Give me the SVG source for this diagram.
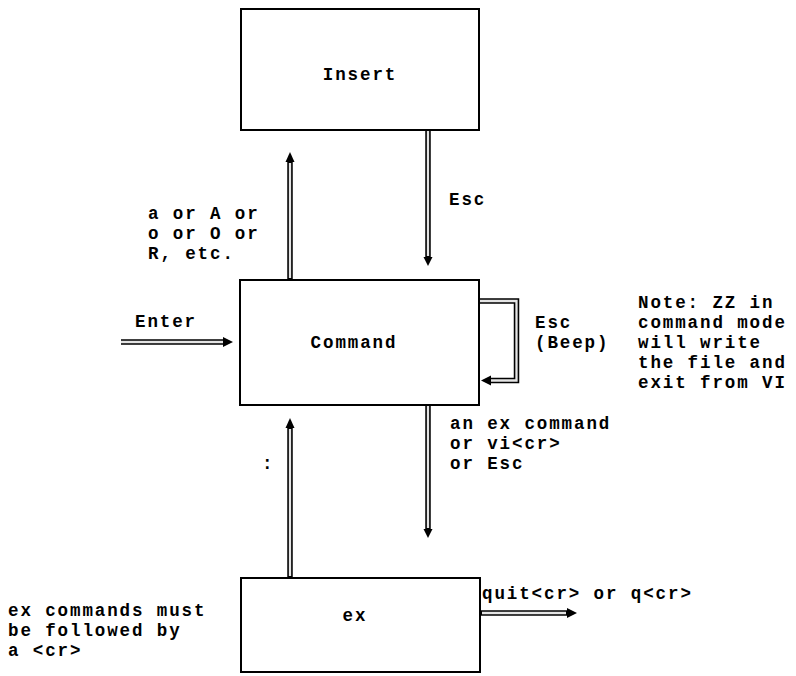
<svg xmlns="http://www.w3.org/2000/svg" width="796" height="676" viewBox="0 0 796 676">
<style>
text{font-family:"Liberation Mono","Courier New",monospace;font-weight:bold;font-size:17.5px;fill:#000;letter-spacing:1.9px}
.box{fill:#fff;stroke:#000;stroke-width:2}
.out{fill:none;stroke:#000;stroke-width:5.5;stroke-linejoin:miter}
.in{fill:none;stroke:#e4e4e4;stroke-width:2.3;stroke-linejoin:miter}
.head{fill:#000}
</style>
<rect width="796" height="676" fill="#fff"/>
<g id="insert">
<rect class="box" x="241" y="9" width="238" height="121"/>
<text x="360" y="80" text-anchor="middle">Insert</text>
</g>
<g id="command">
<rect class="box" x="240" y="280" width="239" height="125"/>
<text x="354" y="348" text-anchor="middle">Command</text>
</g>
<g id="ex">
<rect class="box" x="241" y="578" width="239" height="94"/>
<text x="355" y="621" text-anchor="middle">ex</text>
</g>
<g id="connectors">
<path class="out" d="M290 279V162"/><path class="in" d="M290 278V163"/>
<polygon class="head" points="290,152 285.5,162 294.5,162"/>
<path class="out" d="M428 131V257"/><path class="in" d="M428 131V256"/>
<polygon class="head" points="428,266 423.5,257 432.5,257"/>
<path class="out" d="M121 342H224"/><path class="in" d="M121 342H223"/>
<polygon class="head" points="233,342 223,337 223,347"/>
<path class="out" d="M480 301H516.5V380.5H490"/><path class="in" d="M480 301H516.5V380.5H490"/>
<polygon class="head" points="481,380.5 491,375.5 491,385.5"/>
<path class="out" d="M290 577V428"/><path class="in" d="M290 576V429"/>
<polygon class="head" points="290,418 285.5,428 294.5,428"/>
<path class="out" d="M428 406V529"/><path class="in" d="M428 406V528"/>
<polygon class="head" points="428,538 423.5,529 432.5,529"/>
<path class="out" d="M481 613H567"/><path class="in" d="M482 613H566"/>
<polygon class="head" points="577,613 567,608 567,618"/>
</g>
<g id="labels">
<text x="148" y="219">a or A or</text>
<text x="148" y="239">o or O or</text>
<text x="148" y="259">R, etc.</text>
<text x="449" y="205">Esc</text>
<text x="135" y="327">Enter</text>
<text x="535" y="328">Esc</text>
<text x="535" y="348">(Beep)</text>
<text x="638" y="308">Note: ZZ in</text>
<text x="638" y="328">command mode</text>
<text x="638" y="348">will write</text>
<text x="638" y="368">the file and</text>
<text x="638" y="388">exit from VI</text>
<text x="262" y="469">:</text>
<text x="450" y="429">an ex command</text>
<text x="450" y="449">or vi&lt;cr&gt;</text>
<text x="450" y="469">or Esc</text>
<text x="482" y="599">quit&lt;cr&gt; or q&lt;cr&gt;</text>
<text x="8" y="616">ex commands must</text>
<text x="8" y="636">be followed by</text>
<text x="8" y="656">a &lt;cr&gt;</text>
</g>
</svg>
